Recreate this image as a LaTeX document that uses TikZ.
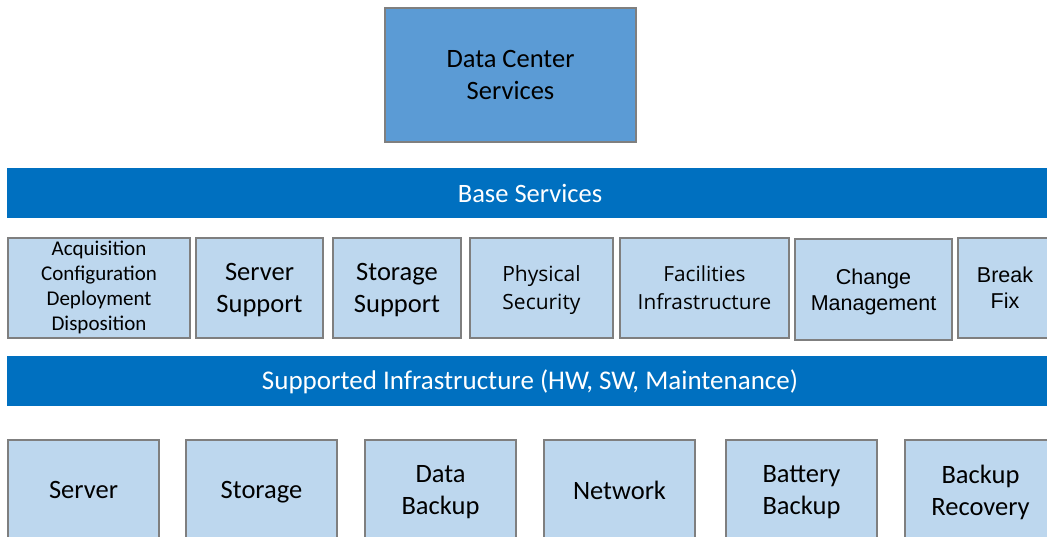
\documentclass[tikz,border=0pt]{standalone}
\usepackage{fontspec}
\setmainfont{Carlito}
\newfontfamily\segoefont{Open Sans}
\newfontfamily\tahomafont{Liberation Sans}
\usepackage{xcolor}
\usetikzlibrary{positioning}
\definecolor{topblue}{HTML}{5B9BD5}
\definecolor{barblue}{HTML}{0070C0}
\definecolor{lightblue}{HTML}{BDD7EE}
\definecolor{edgegray}{HTML}{7F7F7F}

\begin{document}
\begin{tikzpicture}[x=1pt, y=-1pt,
    box/.style={draw=edgegray, line width=1.5pt, fill=lightblue, inner sep=0pt,
        align=center, text depth=0pt, font=\fontsize{26.5}{32}\selectfont},
    topbox/.style={box, fill=topblue},
    bar/.style={fill=barblue, text=white, inner sep=0pt, minimum width=1046pt,
        minimum height=50pt, font=\fontsize{26.5}{32}\selectfont}]
    \useasboundingbox (0,0) rectangle (1047,537);
    \clip (0,0) rectangle (1047,537);

    % Top box
    \node[topbox, minimum width=251pt, minimum height=134pt] (dcs) at (510.5,75) {Data Center\\Services};

    % Base services bar
    \node[bar] (base) at (530,193.5) {Base Services};

    % Base service boxes
    \node[box, minimum width=182pt, minimum height=100pt, text depth=4pt, font=\fontsize{21}{25}\selectfont] (acq) at (99,288)
        {Acquisition\\Configuration\\Deployment\\Disposition};
    \node[box, minimum width=127pt, minimum height=100pt] (srvsup) at (259.5,288) {Server\\Support};
    \node[box, minimum width=128pt, minimum height=100pt] (stosup) at (397,288) {Storage\\Support};
    \node[box, minimum width=143pt, minimum height=100pt, font=\segoefont\fontsize{21}{28}\selectfont] (phys) at (541.5,288) {Physical\\Security};
    \node[box, minimum width=169pt, minimum height=100pt, font=\segoefont\fontsize{20.8}{28}\selectfont] (fac) at (704.5,288) {Facilities\\Infrastructure};
    \node[box, minimum width=157pt, minimum height=101pt, font=\tahomafont\fontsize{21.5}{26}\selectfont] (chg) at (873.5,289.5) {Change\\Management};
    \node[box, minimum width=94pt, minimum height=100pt, font=\tahomafont\fontsize{21.5}{26}\selectfont] (brk) at (1005,288) {Break\\Fix};

    % Supported infrastructure bar
    \node[bar, text depth=2pt, font=\fontsize{27}{32}\selectfont] (infra) at (530,381) {Supported Infrastructure (HW, SW, Maintenance)};

    % Infrastructure boxes
    \node[box, minimum width=151pt, minimum height=100pt] (server) at (83.5,490) {Server};
    \node[box, minimum width=151pt, minimum height=100pt] (storage) at (261.5,490) {Storage};
    \node[box, minimum width=151pt, minimum height=100pt] (backup) at (440.5,490) {Data\\Backup};
    \node[box, minimum width=151pt, minimum height=100pt] (network) at (619.5,490) {Network};
    \node[box, minimum width=151pt, minimum height=100pt] (battery) at (801.5,490) {Battery\\Backup};
    \node[box, minimum width=151pt, minimum height=100pt] (recovery) at (980.5,490) {Backup\\Recovery};
\end{tikzpicture}
\end{document}
